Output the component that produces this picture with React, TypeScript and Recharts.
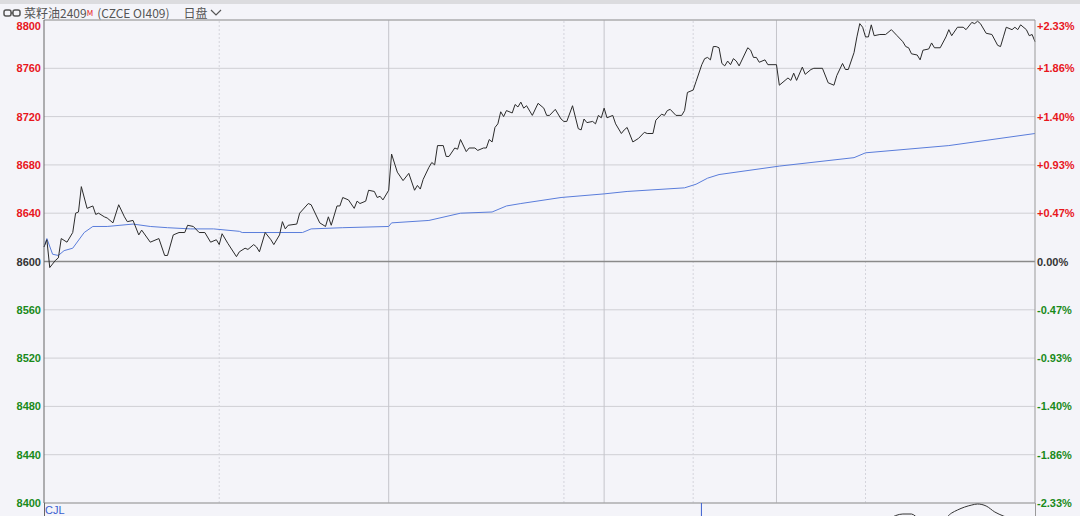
import React from 'react';
import { LineChart, ComposedChart, Line, Bar, XAxis, YAxis, CartesianGrid, ReferenceLine } from 'recharts';

// 分时：minutes from 21:00 open (night 120 + day 225)
const priceMinutes = [
  0, 1, 2, 4, 5, 6, 8, 10, 11, 12, 13, 15, 17, 18, 19, 21, 22, 24, 26, 28, 29, 31, 33, 34, 37, 40, 42, 43, 45, 47,
  49, 50, 52, 54, 56, 58, 60, 61, 62, 64, 67, 68, 70, 71, 73, 74, 75, 77, 79, 80, 82, 83, 84, 85, 88, 89, 92, 93, 96, 98,
  99, 100, 102, 103, 104, 106, 108, 109, 110, 112, 113, 115, 116, 117, 118, 120, 121, 123, 125, 127, 129, 130, 131, 132, 134, 135, 136, 137, 139, 140,
  141, 143, 144, 145, 147, 148, 150, 151, 153, 154, 155, 156, 157, 158, 159, 160, 161, 163, 164, 165, 166, 167, 168, 170, 172, 174, 175, 176, 178, 180,
  181, 182, 184, 186, 187, 188, 189, 191, 192, 193, 194, 195, 196, 198, 199, 201, 202, 203, 205, 207, 209, 210, 212, 213, 215, 216, 217, 218, 220, 222,
  223, 224, 226, 227, 229, 230, 231, 232, 233, 234, 235, 236, 237, 238, 239, 240, 241, 242, 245, 246, 247, 248, 249, 251, 252, 255, 256, 258, 259, 260,
  261, 262, 264, 265, 267, 268, 271, 273, 275, 276, 278, 279, 280, 282, 283, 284, 285, 286, 287, 288, 289, 291, 293, 295, 297, 299, 300, 301, 302, 304,
  305, 306, 308, 309, 310, 312, 314, 315, 316, 318, 320, 321, 323, 324, 325, 326, 328, 330, 332, 333, 334, 335, 337, 338, 339, 340, 342, 343, 344, 345,
];
const prices = [
  8612, 8618, 8595, 8601, 8603, 8619, 8616, 8624, 8640, 8641, 8662, 8644, 8646, 8639, 8640, 8637, 8636, 8632, 8647, 8637, 8633, 8634, 8622, 8626, 8616, 8619, 8605, 8605, 8622, 8624,
  8624, 8630, 8629, 8624, 8624, 8616, 8618, 8614, 8623, 8615, 8604, 8608, 8611, 8610, 8614, 8612, 8608, 8624, 8618, 8614, 8622, 8633, 8627, 8630, 8631, 8640, 8648, 8647, 8632, 8629,
  8637, 8630, 8646, 8646, 8653, 8651, 8644, 8650, 8648, 8650, 8659, 8658, 8653, 8654, 8651, 8659, 8689, 8674, 8667, 8673, 8659, 8663, 8660, 8668, 8678, 8682, 8680, 8696, 8696, 8687,
  8687, 8694, 8693, 8701, 8691, 8694, 8694, 8692, 8694, 8694, 8701, 8699, 8711, 8714, 8724, 8720, 8725, 8723, 8730, 8728, 8732, 8727, 8729, 8721, 8731, 8727, 8721, 8721, 8726, 8718,
  8716, 8716, 8729, 8710, 8709, 8718, 8715, 8716, 8714, 8721, 8719, 8727, 8719, 8721, 8714, 8706, 8709, 8711, 8699, 8702, 8707, 8706, 8706, 8717, 8722, 8721, 8725, 8726, 8721, 8721,
  8725, 8740, 8742, 8749, 8763, 8768, 8769, 8767, 8778, 8778, 8777, 8764, 8762, 8766, 8763, 8768, 8766, 8762, 8777, 8775, 8769, 8769, 8765, 8767, 8763, 8763, 8746, 8750, 8752, 8750,
  8756, 8750, 8761, 8755, 8759, 8760, 8760, 8748, 8746, 8754, 8764, 8759, 8759, 8773, 8786, 8797, 8794, 8786, 8786, 8796, 8787, 8788, 8788, 8792, 8787, 8782, 8778, 8777, 8772, 8771,
  8767, 8775, 8776, 8781, 8777, 8777, 8786, 8792, 8787, 8794, 8794, 8792, 8798, 8797, 8799, 8797, 8789, 8788, 8779, 8778, 8786, 8794, 8792, 8794, 8792, 8796, 8792, 8787, 8788, 8782,
];

// 均价
const avgMinutes = [0, 1, 3, 5, 7, 10, 14, 17, 22, 31, 37, 43, 51, 59, 68, 69, 82, 90, 93, 104, 120, 121, 134, 145, 156, 161, 166, 180, 195, 203, 223, 227, 231, 235, 256, 282, 286, 315, 345];
const avgPrices = [8612, 8619, 8606, 8605, 8609, 8611, 8624, 8629, 8629, 8631, 8629, 8628, 8627, 8627, 8625, 8624, 8624, 8624, 8627, 8628, 8629, 8632, 8634, 8640, 8641, 8646, 8648, 8653, 8656, 8658, 8661, 8664, 8669, 8672, 8679, 8686, 8690, 8696, 8706];

// CJL sub panel (only its top edge shows)
const volMinutes = [229];
const volValues = [13];
const oiMinutes = [294, 299, 302, 305, 313, 316, 318, 323, 325, 328, 331, 334, 337];
const oiValues = [-3, 2, 2, -3, -3, 3, 6, 11, 12, 10, 4, 0, -3];

const prevSettle = 8600;
const yTicks = [8400, 8440, 8480, 8520, 8560, 8600, 8640, 8680, 8720, 8760, 8800];
const sessionBreaks = [120, 195, 255];
const hourMarks = [61, 181, 226, 286];

const priceData = priceMinutes.map((t, i) => ({ t, price: prices[i] }));
const avgData = avgMinutes.map((t, i) => ({ t, avg: avgPrices[i] }));
const volData = volMinutes.map((t, i) => ({ t, v: volValues[i] }));
const oiData = oiMinutes.map((t, i) => ({ t, oi: oiValues[i] }));

const RED = '#e8161d';
const GREEN = '#1a8a1a';
const FONT = '"Liberation Sans", Arial, sans-serif';

const colorOf = (v: number) => (v > prevSettle ? RED : v < prevSettle ? GREEN : '#333');

const LeftTick = (props: any) => {
  const { x, y, payload } = props;
  const v = payload.value;
  const dy = v === 8800 ? 10 : 4;
  return (
    <text x={x} y={y + dy} textAnchor="end" fill={colorOf(v)} fontSize={11} fontWeight="bold" fontFamily={FONT}>
      {v}
    </text>
  );
};

const RightTick = (props: any) => {
  const { x, y, payload } = props;
  const v = payload.value;
  const pct = ((v - prevSettle) / prevSettle) * 100;
  const label = (pct > 0 ? '+' : '') + pct.toFixed(2) + '%';
  const dy = v === 8800 ? 10 : 4;
  return (
    <text x={x} y={y + dy} textAnchor="start" fill={colorOf(v)} fontSize={11} fontWeight="bold" fontFamily={FONT}>
      {label}
    </text>
  );
};

export default function App() {
  return (
    <div style={{ position: 'absolute', left: 0, top: 0, width: 1080, height: 516, background: '#f4f4f9', overflow: 'hidden' }}>
      <div style={{ position: 'absolute', left: 0, top: 0, width: 1080, height: 4, background: '#dcdcdf' }} />
      <div style={{ position: 'absolute', left: 3, top: 5, height: 15, display: 'flex', alignItems: 'center', fontFamily: '"Noto Sans CJK SC", sans-serif', fontSize: 12, color: '#555', whiteSpace: 'nowrap' }}>
        <svg width={18} height={8} style={{ marginRight: 3 }}>
          <rect x={1} y={1} width={7} height={6} rx={2} fill="none" stroke="#555" strokeWidth={1.5} />
          <rect x={10} y={1} width={7} height={6} rx={2} fill="none" stroke="#555" strokeWidth={1.5} />
          <line x1={8} y1={4} x2={10} y2={4} stroke="#555" strokeWidth={1.5} />
        </svg>
        <span>菜籽油2409</span>
        <sup style={{ color: RED, fontSize: 8, marginRight: 4 }}>M</sup>
        <span>(CZCE OI409)</span>
        <span style={{ marginLeft: 14 }}>日盘</span>
        <svg width={12} height={8} style={{ marginLeft: 2 }}>
          <polyline points="1,1 6,6 11,1" fill="none" stroke="#555" strokeWidth={1.2} />
        </svg>
      </div>

      <div style={{ position: 'absolute', left: 0, top: 0 }}>
        <LineChart width={1080} height={516} margin={{ top: 20, right: 0, left: 0, bottom: 13 }}>
          <XAxis dataKey="t" type="number" domain={[0, 345]} hide allowDuplicatedCategory={false} />
          <YAxis
            yAxisId="left"
            orientation="left"
            width={44}
            domain={[8400, 8800]}
            ticks={yTicks}
            interval={0}
            axisLine={{ stroke: '#666' }}
            tickLine={false}
            tickSize={0}
            tick={<LeftTick />}
            tickMargin={3}
          />
          <YAxis
            yAxisId="right"
            orientation="right"
            width={45}
            domain={[8400, 8800]}
            ticks={yTicks}
            interval={0}
            axisLine={{ stroke: '#999' }}
            tickLine={false}
            tickSize={0}
            tick={<RightTick />}
            tickMargin={2}
          />
          <CartesianGrid yAxisId="left" vertical={false} stroke="#cfcfd4" />
          {hourMarks.map((t) => (
            <ReferenceLine key={'h' + t} yAxisId="left" x={t} stroke="#d4d4dc" strokeDasharray="2 2" />
          ))}
          {sessionBreaks.map((t) => (
            <ReferenceLine key={'s' + t} yAxisId="left" x={t} stroke="#c4c4ca" />
          ))}
          <ReferenceLine yAxisId="left" y={8800} stroke="#9a9a9a" />
          <ReferenceLine yAxisId="left" y={8400} stroke="#9a9a9a" />
          <ReferenceLine yAxisId="left" y={prevSettle} stroke="#8a8a8a" strokeWidth={1.5} />
          <Line yAxisId="left" data={avgData} dataKey="avg" type="linear" stroke="#5a7ddb" strokeWidth={1} dot={false} isAnimationActive={false} />
          <Line yAxisId="left" data={priceData} dataKey="price" type="linear" stroke="#2b2b2b" strokeWidth={1} dot={false} isAnimationActive={false} />
          <Line yAxisId="right" data={priceData} dataKey="price" type="linear" stroke="none" strokeWidth={0} dot={false} activeDot={false} legendType="none" isAnimationActive={false} />
        </LineChart>
      </div>

      <div style={{ position: 'absolute', left: 0, top: 503 }}>
        <ComposedChart width={1080} height={13} data={volData} margin={{ top: 0, right: 45, left: 44, bottom: 0 }}>
          <XAxis dataKey="t" type="number" domain={[0, 345]} hide />
          <YAxis domain={[0, 13]} hide allowDataOverflow />
          <Bar dataKey="v" fill="#3b5fd0" barSize={1} isAnimationActive={false} />
          <Line data={oiData} dataKey="oi" type="monotone" stroke="#333" strokeWidth={1} dot={false} isAnimationActive={false} />
        </ComposedChart>
      </div>
      <div style={{ position: 'absolute', left: 45, top: 504, fontFamily: FONT, fontSize: 11, color: '#3b5fd0' }}>CJL</div>
      <div style={{ position: 'absolute', left: 44, top: 503, width: 1, height: 13, background: '#666' }} />
      <div style={{ position: 'absolute', left: 1035, top: 503, width: 1, height: 13, background: '#999' }} />
    </div>
  );
}
